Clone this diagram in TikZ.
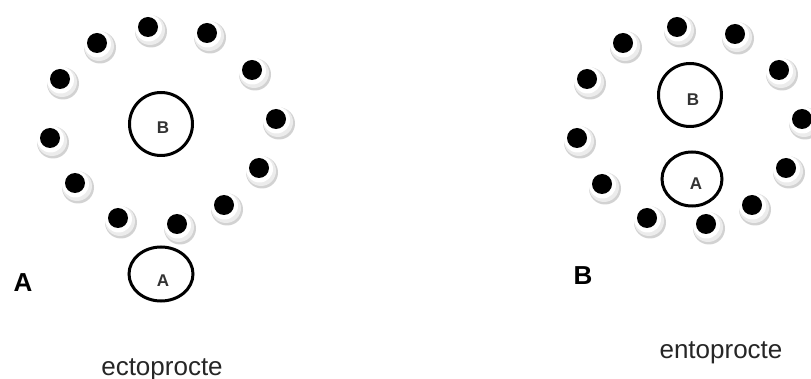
\documentclass[tikz,border=0pt]{standalone}
\usepackage{fontspec}
\setmainfont{Liberation Sans}
\usetikzlibrary{shapes.geometric}
\begin{document}
\begin{tikzpicture}[x=1pt,y=-1pt,
  ringB/.style={circle,draw=black,line width=3pt,minimum size=63pt,inner sep=0pt},
  ringA/.style={ellipse,draw=black,line width=3pt,inner sep=0pt},
  letter/.style={font=\bfseries\fontsize{17}{17}\selectfont,inner sep=0pt,text=black!80},
  biglabel/.style={font=\bfseries\fontsize{26}{26}\selectfont,inner sep=0pt},
  caption/.style={font=\fontsize{26}{26}\selectfont,inner sep=0pt,anchor=base,text=black!85},
  tent/.pic={
    \fill[gray!35] (3,4.5) circle (16pt);
    \fill[gray!15] (2,3) circle (15pt);
    \fill[white] (0.5,1) circle (13.5pt);
    \fill[black] (0,0) circle (10pt);
  }]
\useasboundingbox (0,0) rectangle (811,379);
\fill[white] (0,0) rectangle (811,379);
% left panel: ectoprocte
\foreach \x/\y in {148/27,97/43,207/33,60/79,252/70,276/119,50/138,259/168,75/183,224/205,118/218,177/224}
  \pic at (\x,\y) {tent};
\node[ringB] (lB) at (161,124) {};
\node[letter] (lBt) at (163,128) {B};
\node[ringA,minimum width=64pt,minimum height=54pt] (lA) at (161,274) {};
\node[letter] (lAt) at (163,281) {A};
\node[biglabel] (labA) at (23,283) {A};
\node[caption] (capL) at (162,375) {ectoprocte};
% right panel: entoprocte
\foreach \x/\y in {677/27,623/43,735/34,587/79,779/70,802/119,577/138,786/168,602/184,752/205,647/218,706/224}
  \pic at (\x,\y) {tent};
\node[ringB] (rB) at (690,95) {};
\node[letter] (rBt) at (693,100) {B};
\node[ringA,minimum width=60pt,minimum height=54pt] (rA) at (692,179) {};
\node[letter] (rAt) at (696,184) {A};
\node[biglabel] (labB) at (583,276) {B};
\node[caption] (capR) at (721,358) {entoprocte};
\end{tikzpicture}
\end{document}
